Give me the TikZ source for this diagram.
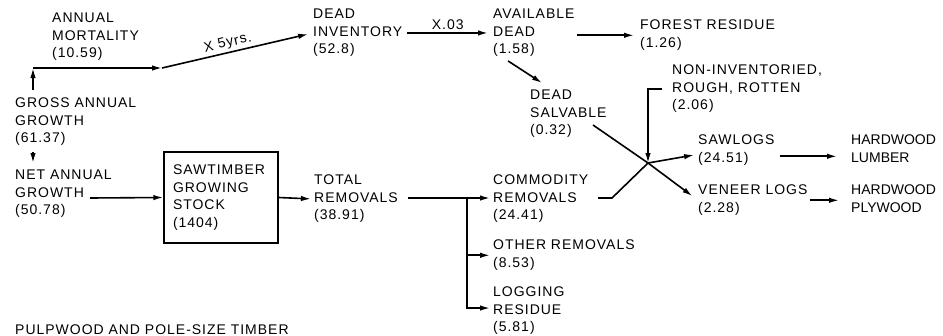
\documentclass[tikz,border=0pt]{standalone}
\usepackage{fontspec}
\setmainfont{Liberation Sans}[LetterSpace=7]
\usetikzlibrary{arrows.meta,positioning,calc}

\begin{document}
\begin{tikzpicture}[
    x=1pt, y=-1pt,
    font=\fontsize{14}{17.5}\selectfont,
    txt/.style={anchor=north west, inner sep=0pt, align=left},
    tight/.style={txt, font=\fontsize{14}{17.5}\selectfont\addfontfeature{LetterSpace=0}},
    box/.style={draw, line width=1.4pt, minimum width=114pt, minimum height=91pt, inner xsep=9pt, text width=96pt, align=left},
    arr/.style={-{Latex[length=10pt,width=5.5pt]}, line width=1.6pt},
    ln/.style={line width=1.6pt},
  ]
  \useasboundingbox (0,0) rectangle (943,335);
  \clip (0,0) rectangle (943,335);

  \node[txt] (mort) at (52,13) {ANNUAL\\MORTALITY\\(10.59)};
  \node[txt] (gross) at (15,98) {GROSS ANNUAL\\GROWTH\\(61.37)};
  \node[txt] (net) at (15,170) {NET ANNUAL\\GROWTH\\(50.78)};
  \node[box] (stock) at (221,197.5) {SAWTIMBER\\GROWING\\STOCK\\(1404)};
  \node[txt] (total) at (314,175) {TOTAL\\REMOVALS\\(38.91)};
  \node[txt] (comm) at (493,175) {COMMODITY\\REMOVALS\\(24.41)};
  \node[txt] (other) at (493,240) {OTHER REMOVALS\\(8.53)};
  \node[txt] (logres) at (493,287) {LOGGING\\RESIDUE\\(5.81)};
  \node[txt] (inv) at (313,9) {DEAD\\INVENTORY\\(52.8)};
  \node[txt] (avail) at (493,9) {AVAILABLE\\DEAD\\(1.58)};
  \node[txt] (forest) at (640,20) {FOREST RESIDUE\\(1.26)};
  \node[txt] (salv) at (530,90) {DEAD\\SALVABLE\\(0.32)};
  \node[txt] (noninv) at (672,65) {NON-INVENTORIED,\\ROUGH, ROTTEN\\(2.06)};
  \node[txt] (saw) at (698,135) {SAWLOGS\\(24.51)};
  \node[tight] (lumber) at (851,135) {HARDWOOD\\LUMBER};
  \node[txt] (veneer) at (698,185) {VENEER LOGS\\(2.28)};
  \node[tight] (plywood) at (851,185) {HARDWOOD\\PLYWOOD};
  \node[txt] (pulp) at (15,325) {PULPWOOD AND POLE-SIZE TIMBER};

  \coordinate (mcorner) at (33,68);
  \coordinate (mbend) at (162,68);
  \coordinate (netout) at (90,198);
  \coordinate (totout) at (408,198);
  \coordinate (split) at (467,198);
  \coordinate (commout) at (598,198);
  \coordinate (cbend) at (612,198);
  \coordinate (salvout) at (593,125);
  \coordinate (jn) at (648,163);

  \draw[arr, shorten <=8pt] (gross.north -| mcorner) -- (mcorner);
  \draw[arr] (mcorner) -- (mbend);
  \draw[arr, shorten >=5pt] (mbend) -- node[above, sloped, pos=0.45, inner sep=2pt] {X 5yrs.} (inv.west);
  \draw[arr, shorten <=6pt, shorten >=7pt] (gross.south -| mcorner) -- (net.north -| mcorner);
  \draw[arr] (netout) -- (stock.west);
  \draw[arr, shorten >=3pt] (stock.east) -- (total.west);
  \draw[ln] (totout) -- (split);
  \draw[arr, shorten >=3pt] (split) -- (split -| comm.west);
  \draw[arr, shorten >=3pt] (split) |- (other.west);
  \draw[arr, shorten >=3pt] (split) |- ([yshift=3pt]logres.west);
  \draw[ln] (commout) -- (cbend) -- (jn);
  \draw[arr, shorten <=5pt, shorten >=5pt] (inv.east) -- node[above, inner sep=3pt] {X.03} (avail.west);
  \draw[arr, shorten <=2pt, shorten >=6pt] (avail.east |- forest.west) -- (forest.west);
  \draw[arr] ([shift={(15,4)}]avail.south west) -- ([shift={(12,-7)}]salv.north west);
  \draw[ln] (salvout) -- (jn);
  \draw[arr, shorten <=10pt] (noninv.west) -| (jn);
  \draw[arr, shorten >=4pt] (jn) -- ([yshift=-4pt]saw.west);
  \draw[arr, shorten >=7pt] (jn) -- (veneer.west);
  \draw[arr, shorten <=5pt, shorten >=14pt] ([yshift=-6pt]saw.east) -- ([yshift=-6pt]saw.east -| lumber.west);
  \draw[arr, shorten <=2pt, shorten >=12pt] (veneer.east) -- (veneer.east -| plywood.west);
\end{tikzpicture}
\end{document}
